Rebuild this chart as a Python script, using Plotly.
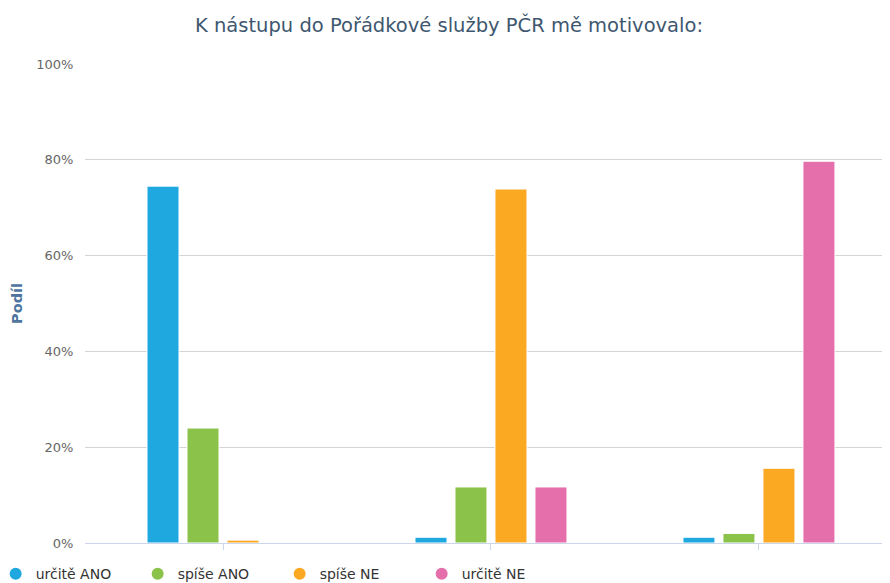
import plotly.graph_objects as go

categories = ["Otázka 1", "Otázka 2", "Otázka 3"]
series_names = ["určitě ANO", "spíše ANO", "spíše NE", "určitě NE"]
urcite_ano = [74.5, 1.2, 1.2]
spise_ano = [24.0, 11.7, 2.0]
spise_ne = [0.6, 73.9, 15.6]
urcite_ne = [0.0, 11.7, 79.7]
y_ticks = [0, 20, 40, 60, 80, 100]
y_tick_labels = ["0%", "20%", "40%", "60%", "80%", "100%"]

colors = ["#1fa8e0", "#8bc34a", "#fba823", "#e56faa"]
values = [urcite_ano, spise_ano, spise_ne, urcite_ne]

fig = go.Figure()
for name, vals, col in zip(series_names, values, colors):
    fig.add_trace(go.Bar(
        x=categories, y=vals, name=name,
        marker=dict(color=col, line=dict(color="white", width=1)),
        showlegend=False,
    ))
for name, col in zip(series_names, colors):
    fig.add_trace(go.Scatter(
        x=[None], y=[None], mode="markers", name=name,
        marker=dict(symbol="circle", size=12, color=col),
    ))

fig.update_layout(
    width=882, height=575,
    paper_bgcolor="white", plot_bgcolor="white",
    font=dict(family="DejaVu Sans", color="#333333"),
    title=dict(text="K nástupu do Pořádkové služby PČR mě motivovalo:",
               x=0.5, xref="container", xanchor="center",
               y=0.970, yanchor="middle",
               font=dict(size=19.5, color="#3e576f")),
    margin=dict(l=77, r=0, t=56, b=40, autoexpand=False),
    barmode="group", bargap=0.403, bargroupgap=0.2,
    legend=dict(orientation="h", xref="paper", yref="paper",
                x=-0.111, y=-0.0315, xanchor="left", yanchor="top",
                entrywidth=97, font=dict(size=14, color="#333333"),
                itemsizing="constant", itemwidth=30),
)
fig.update_xaxes(
    range=[-0.515, 2.489], showticklabels=False, showgrid=False,
    showline=True, linecolor="#ccd6eb", linewidth=1,
    ticks="outside", ticklen=6, tickcolor="#ccd6eb",
)
fig.update_yaxes(
    range=[0, 100], tickvals=y_ticks, ticktext=y_tick_labels,
    showgrid=True, gridcolor="#d4d4d4", gridwidth=1, zeroline=False,
    tickfont=dict(size=13, color="#666666"),
    ticks="outside", ticklen=8, tickcolor="rgba(0,0,0,0)",
    title=dict(text="<b>Podíl</b>", font=dict(size=14.5, color="#4d759e"), standoff=10),
)

fig.write_html("out.html")
